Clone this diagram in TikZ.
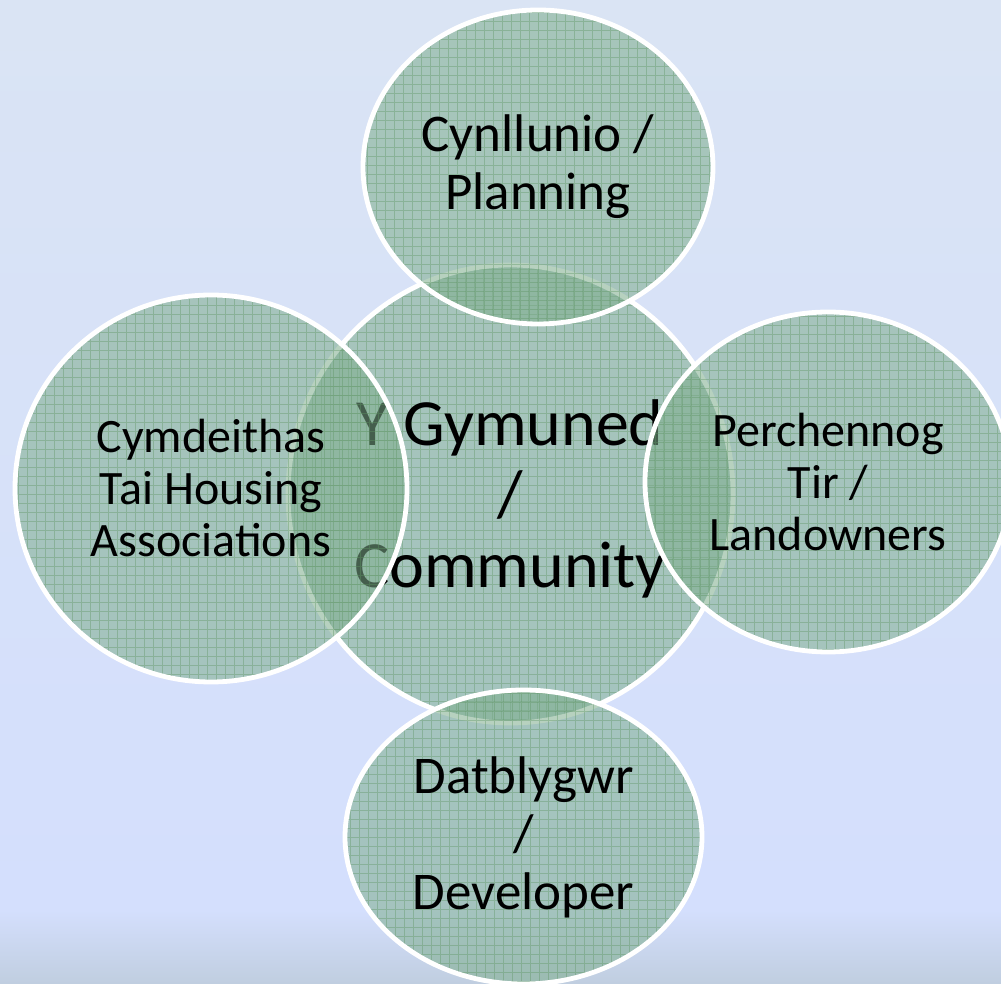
\documentclass[tikz,border=0pt]{standalone}
\usepackage{fontspec}
\setmainfont{Carlito}
\usetikzlibrary{shapes.geometric}
\definecolor{bgtop}{RGB}{218,228,244}
\definecolor{bgmid}{RGB}{212,223,253}
\definecolor{bgbot}{RGB}{192,206,224}
\definecolor{blobfill}{RGB}{125,173,140}
\definecolor{gridgreen}{RGB}{95,150,100}
\tikzset{
  blob/.style={ellipse, inner sep=0pt, fill=blobfill, fill opacity=0.55,
    text opacity=1, draw=white, draw opacity=1, line width=4.8pt,
    align=center, text=black,
    path picture={\draw[gridgreen, line width=0.6pt, draw opacity=0.4, step=9]
      (path picture bounding box.south west) grid (path picture bounding box.north east);}},
  bigtext/.style={font=\fontsize{66}{71}\selectfont, align=center, inner sep=0pt},
  tbtext/.style={font=\fontsize{53}{58}\selectfont},
  lrtext/.style={font=\fontsize{48}{52}\selectfont}
}
\begin{document}
\begin{tikzpicture}[x=1pt,y=1pt]
\useasboundingbox (0,0) rectangle (1001,983);
\shade[top color=bgtop, bottom color=bgmid] (0,72) rectangle (1001,983);
\shade[top color=bgmid, bottom color=bgbot] (0,0) rectangle (1001,73);
% central
\node[blob, minimum width=445pt, minimum height=458pt] (comm) at (510.5,489) {};
\node[bigtext] (commtext) at (510,484) {Y Gymuned\\/\\Community};
% outer
\node[blob, tbtext, minimum width=350pt, minimum height=314pt] (plan) at (538,816)
  {Cynllunio /\\Planning};
\node[blob, lrtext, minimum width=392pt, minimum height=387pt] (house) at (211,494.5)
  {Cymdeithas\\Tai Housing\\Associations};
\node[blob, lrtext, minimum width=366pt, minimum height=340pt] (land) at (828,501)
  {Perchennog\\Tir /\\Landowners};
\node[blob, tbtext, minimum width=357pt, minimum height=294pt] (dev) at (523.5,146)
  {Datblygwr\\/\\Developer};
\end{tikzpicture}
\end{document}
